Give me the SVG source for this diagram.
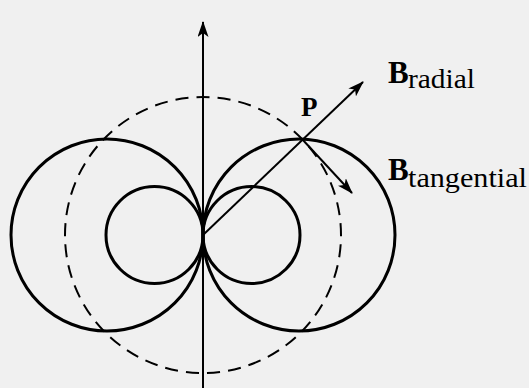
<svg xmlns="http://www.w3.org/2000/svg" width="529" height="388" viewBox="0 0 529 388">
<style>
.curve{fill:none;stroke:#000;stroke-width:3}
.dash{fill:none;stroke:#000;stroke-width:2;stroke-dasharray:13 8}
.line{fill:none;stroke:#000;stroke-width:2}
text{font-family:'Liberation Serif','Times New Roman',serif;fill:#000}
.bold{font-weight:bold}
</style>
<defs>
<marker id="ah" viewBox="0 0 16 11" refX="15" refY="5.5" markerWidth="16" markerHeight="11" markerUnits="userSpaceOnUse" orient="auto">
<path d="M0,0 L16,5.5 L0,11 L4,5.5 Z" fill="#000"/>
</marker>
</defs>
<rect width="529" height="388" fill="#f0f0f0"/>
<g id="dashed-circle"><path class="dash" pathLength="861" stroke-dashoffset="6.5" d="M203,97 A138,138 0 1,1 203,373 A138,138 0 1,1 203,97 Z"/></g>
<g id="left-outer"><circle class="curve" cx="107" cy="235" r="96"/></g>
<g id="right-outer"><circle class="curve" cx="299" cy="235" r="96"/></g>
<g id="left-inner"><circle class="curve" cx="154.5" cy="235" r="48.5"/></g>
<g id="right-inner"><circle class="curve" cx="251.5" cy="235" r="48.5"/></g>
<g id="connectors">
<line class="line" x1="203" y1="388" x2="203" y2="22" marker-end="url(#ah)"/>
<line class="line" x1="203" y1="235" x2="363" y2="82" marker-end="url(#ah)"/>
<line class="line" x1="302" y1="139" x2="352" y2="193" marker-end="url(#ah)"/>
</g>
<g id="label-P"><text class="bold" x="301" y="116" font-family="Liberation Serif, serif" font-size="27">P</text></g>
<g id="label-Bradial"><text x="388" y="83" font-family="Liberation Serif, serif"><tspan class="bold" font-size="31">B</tspan><tspan font-size="27" x="408" y="88" textLength="67" lengthAdjust="spacingAndGlyphs">radial</tspan></text></g>
<g id="label-Btangential"><text x="388" y="180" font-family="Liberation Serif, serif"><tspan class="bold" font-size="31">B</tspan><tspan font-size="27" x="408" y="187" textLength="119" lengthAdjust="spacingAndGlyphs">tangential</tspan></text></g>
</svg>
